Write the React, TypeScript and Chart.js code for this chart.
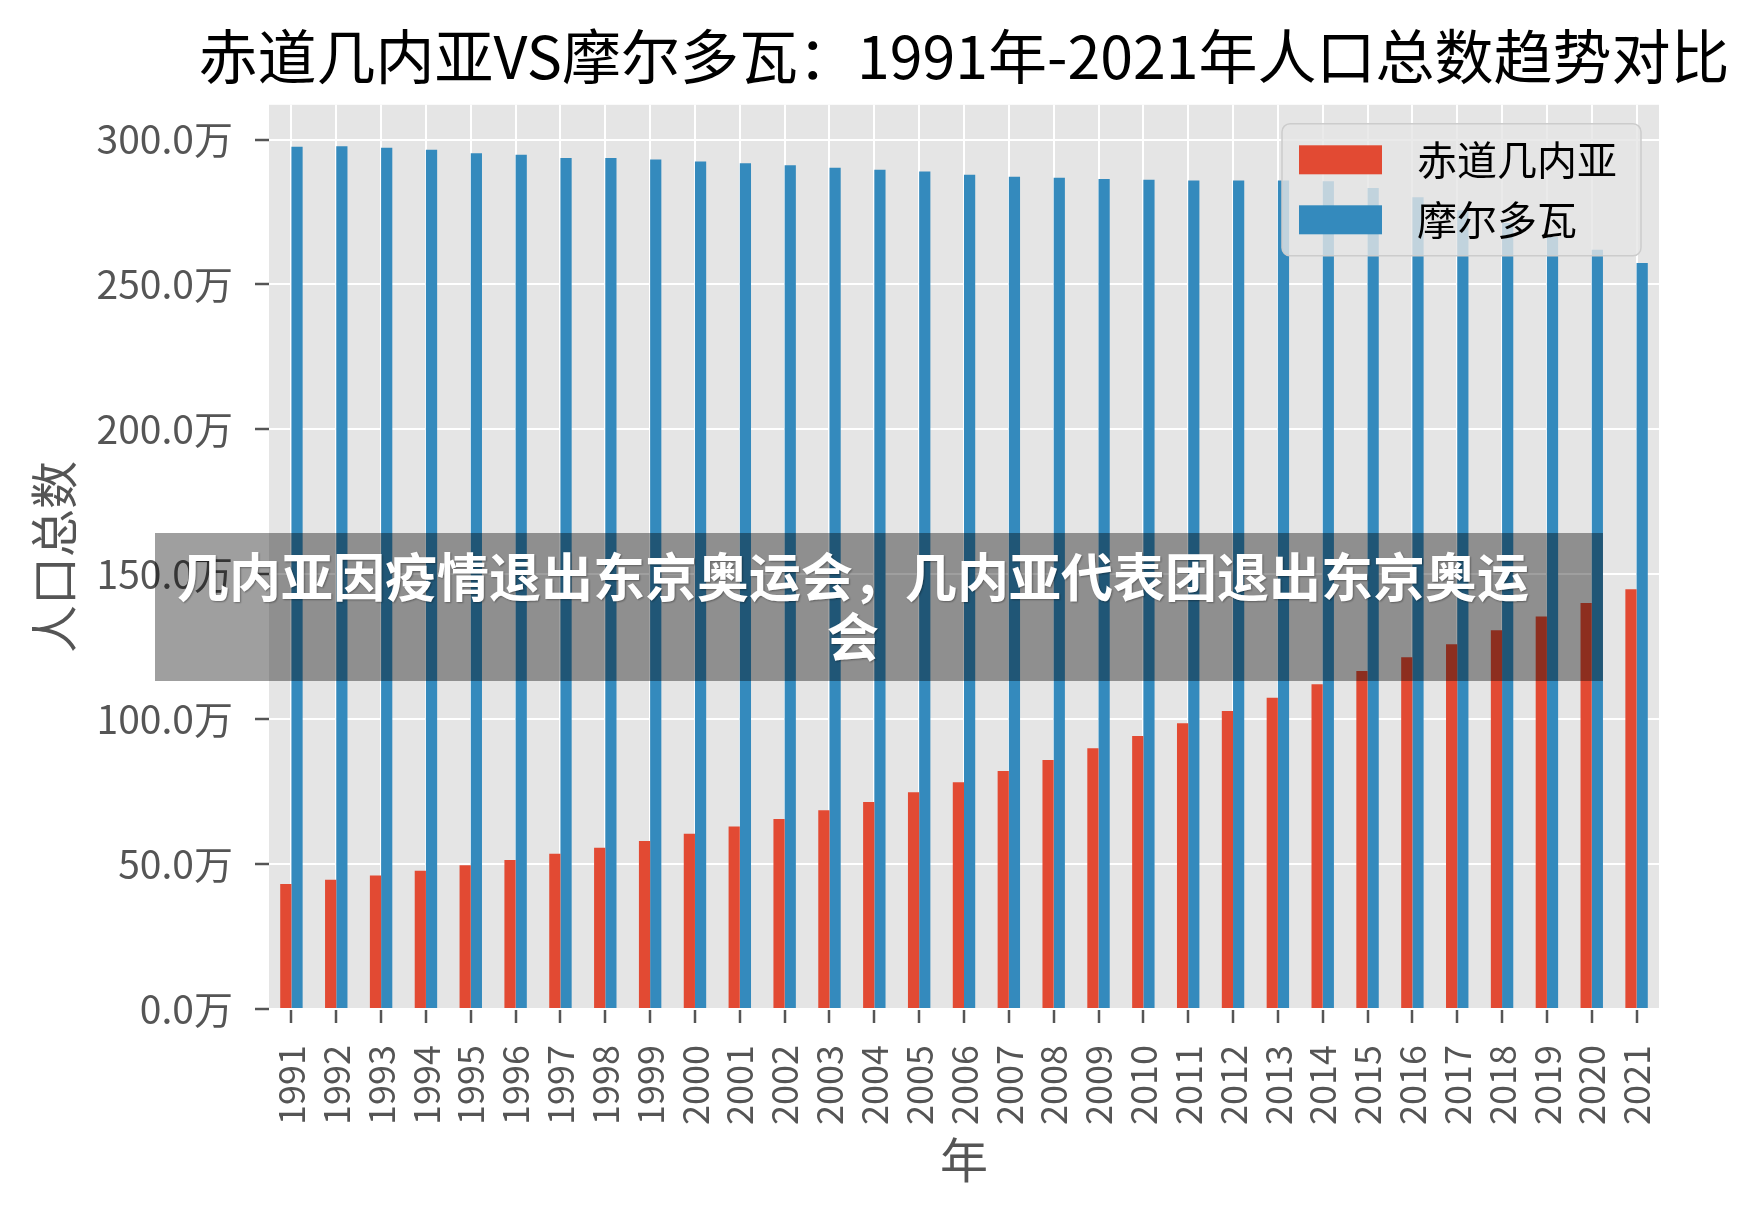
import React, { useEffect, useRef } from 'react';
import { Chart, registerables } from 'chart.js';

Chart.register(...registerables);

// ---------------- data ----------------
const years = [
  '1991', '1992', '1993', '1994', '1995', '1996', '1997', '1998', '1999', '2000',
  '2001', '2002', '2003', '2004', '2005', '2006', '2007', '2008', '2009', '2010',
  '2011', '2012', '2013', '2014', '2015', '2016', '2017', '2018', '2019', '2020', '2021',
];

// 赤道几内亚 population (万)
const guineaValues = [
  43.1, 44.6, 46.1, 47.7, 49.6, 51.4, 53.6, 55.6, 58.0, 60.5,
  63.0, 65.6, 68.6, 71.4, 74.8, 78.2, 82.1, 85.9, 90.0, 94.2,
  98.6, 102.8, 107.4, 112.1, 116.6, 121.4, 125.9, 130.7, 135.4, 140.1, 144.8,
];

// 摩尔多瓦 population (万)
const moldovaValues = [
  297.5, 297.7, 297.2, 296.5, 295.3, 294.8, 293.6, 293.6, 293.1, 292.4,
  291.8, 291.1, 290.3, 289.6, 289.0, 287.9, 287.2, 286.8, 286.4, 286.1,
  285.9, 285.9, 285.9, 285.6, 283.3, 280.1, 275.6, 271.2, 266.4, 262.0, 257.4,
];

const yTickValues = [0, 50, 100, 150, 200, 250, 300];
const seriesNames = ['赤道几内亚', '摩尔多瓦'];
const seriesColors = ['#E24A33', '#348ABD'];
const chartTitle = '赤道几内亚VS摩尔多瓦：1991年-2021年人口总数趋势对比';
const yAxisTitle = '人口总数';
const xAxisTitle = '年';
const bannerText = '几内亚因疫情退出东京奥运会，几内亚代表团退出东京奥运会';

const FONT = "'Noto Sans CJK SC', 'Noto Sans', sans-serif";

// ---------------- plugins ----------------
const backgroundPlugin = {
  id: 'ggBackground',
  beforeDraw(chart: any) {
    const { ctx, chartArea, width, height } = chart;
    ctx.save();
    ctx.fillStyle = '#FFFFFF';
    ctx.fillRect(0, 0, width, height);
    ctx.fillStyle = '#E5E5E5';
    ctx.fillRect(chartArea.left, chartArea.top, chartArea.right - chartArea.left, chartArea.bottom - chartArea.top);
    ctx.restore();
  },
};

const centerTitlePlugin = {
  id: 'centerTitleOverPlot',
  afterLayout(chart: any) {
    const tb = chart.titleBlock;
    if (!tb) return;
    const mid = (chart.chartArea.left + chart.chartArea.right) / 2;
    const half = Math.min(mid, chart.width - mid);
    tb.left = mid - half;
    tb.right = mid + half;
    tb.width = 2 * half;
  },
};

const insideLegendPlugin = {
  id: 'insideLegend',
  afterDatasetsDraw(chart: any) {
    const { ctx, chartArea } = chart;
    const w = 359;
    const h = 132;
    const x = chartArea.right - 18 - w;
    const y = chartArea.top + 19;
    ctx.save();
    ctx.beginPath();
    if (ctx.roundRect) ctx.roundRect(x, y, w, h, 8);
    else ctx.rect(x, y, w, h);
    ctx.fillStyle = 'rgba(229,229,229,0.8)';
    ctx.fill();
    ctx.strokeStyle = '#CCCCCC';
    ctx.lineWidth = 1.5;
    ctx.stroke();
    chart.data.datasets.forEach((ds: any, i: number) => {
      const rowY = y + 36 + i * 60;
      ctx.fillStyle = ds.backgroundColor;
      ctx.fillRect(x + 17, rowY - 14.5, 83, 29);
      ctx.fillStyle = '#000000';
      ctx.font = `40px ${FONT}`;
      ctx.textBaseline = 'middle';
      ctx.textAlign = 'left';
      ctx.fillText(ds.label, x + 135, rowY);
    });
    ctx.restore();
  },
};

// ---------------- component ----------------
export default function App() {
  const canvasRef = useRef<HTMLCanvasElement | null>(null);

  useEffect(() => {
    if (!canvasRef.current) return;
    const chart = new Chart(canvasRef.current, {
      type: 'bar',
      data: {
        labels: years,
        datasets: [
          {
            label: seriesNames[0],
            data: guineaValues,
            backgroundColor: seriesColors[0],
            borderWidth: 0,
            categoryPercentage: 0.5,
            barPercentage: 1.0,
          },
          {
            label: seriesNames[1],
            data: moldovaValues,
            backgroundColor: seriesColors[1],
            borderWidth: 0,
            categoryPercentage: 0.5,
            barPercentage: 1.0,
          },
        ],
      },
      options: {
        responsive: false,
        devicePixelRatio: 1,
        animation: false,
        layout: { padding: { left: 0, right: 99, top: 0, bottom: 0 } },
        plugins: {
          legend: { display: false },
          tooltip: { enabled: false },
          title: {
            display: true,
            text: chartTitle,
            color: '#000000',
            font: { size: 59, family: FONT, weight: 'normal' },
            padding: { top: 21, bottom: 13 },
          },
        },
        scales: {
          x: {
            type: 'category',
            offset: true,
            grid: {
              offset: false,
              color: '#FFFFFF',
              lineWidth: 2,
              tickColor: '#555555',
              tickLength: 14,
              tickWidth: 2.5,
            },
            border: { display: false },
            ticks: {
              autoSkip: false,
              maxRotation: 90,
              minRotation: 90,
              padding: 22,
              color: '#555555',
              font: { size: 36, family: FONT },
            },
            title: {
              display: true,
              text: xAxisTitle,
              color: '#555555',
              font: { size: 48, family: FONT },
              padding: { top: 0, bottom: 26 },
            },
            afterFit(scale: any) {
              scale.height = 206;
            },
          },
          y: {
            type: 'linear',
            min: 0,
            max: 312,
            grid: {
              color: '#FFFFFF',
              lineWidth: 2,
              tickColor: '#555555',
              tickLength: 14,
              tickWidth: 2.5,
            },
            border: { display: false },
            afterBuildTicks(scale: any) {
              scale.ticks = yTickValues.map((v) => ({ value: v }));
            },
            ticks: {
              padding: 22,
              color: '#555555',
              font: { size: 39, family: FONT },
              callback: (v: any) => `${Number(v).toFixed(1)}万`,
            },
            title: {
              display: true,
              text: yAxisTitle,
              color: '#555555',
              font: { size: 48, family: FONT },
              padding: { top: 25, bottom: 0 },
            },
            afterFit(scale: any) {
              scale.width = 269;
            },
          },
        },
      } as any,
      plugins: [backgroundPlugin, centerTitlePlugin, insideLegendPlugin],
    });
    return () => chart.destroy();
  }, []);

  return (
    <div style={{ position: 'absolute', left: 0, top: 0, width: 1758, height: 1215, background: '#FFFFFF', overflow: 'hidden' }}>
      <canvas ref={canvasRef} width={1758} height={1215} style={{ display: 'block', width: 1758, height: 1215 }} />
      <div
        style={{
          position: 'absolute',
          left: 155,
          top: 533,
          width: 1448,
          height: 148,
          background: 'rgba(0,0,0,0.375)',
        }}
      />
      <div
        style={{
          position: 'absolute',
          left: 168,
          top: 545,
          width: 1370,
          textAlign: 'center',
          color: '#FFFFFF',
          fontFamily: FONT,
          fontWeight: 700,
          fontSize: 52,
          lineHeight: '60px',
          textShadow: '1px 1px 2px rgba(0,0,0,0.35)',
        }}
      >
        {bannerText}
      </div>
    </div>
  );
}
